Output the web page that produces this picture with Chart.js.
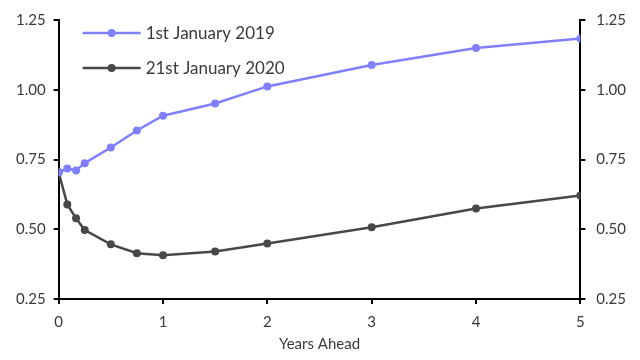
<!DOCTYPE html>
<html>
<head>
<meta charset="utf-8">
<script src="https://cdn.jsdelivr.net/npm/chart.js@4"></script>
<style>
  html, body { margin: 0; padding: 0; background: #fff; }
  #wrap { width: 640px; height: 360px; }
</style>
</head>
<body>
<div id="wrap"><canvas id="curveChart"></canvas></div>
<script>
const yearsAhead = [0, 0.083, 0.167, 0.25, 0.5, 0.75, 1, 1.5, 2, 3, 4, 5];
const jan2019 = [0.704, 0.718, 0.711, 0.737, 0.793, 0.854, 0.907, 0.951, 1.012, 1.089, 1.150, 1.184];
const jan2020 = [0.704, 0.589, 0.539, 0.497, 0.446, 0.414, 0.407, 0.420, 0.449, 0.507, 0.574, 0.621];
const yTicks = [0.25, 0.5, 0.75, 1.0, 1.25];
const xTicks = [0, 1, 2, 3, 4, 5];

const FONT = "Lato, 'Open Sans', sans-serif";
const TEXT = "#3a3a3a";

// legend drawn inside the plot, line + dot like the original
const insideLegend = {
  id: "insideLegend",
  afterDraw(chart) {
    const { ctx, chartArea } = chart;
    const x0 = chartArea.left + 24;
    let y = chartArea.top + 13;
    ctx.save();
    ctx.font = "17px " + FONT;
    ctx.textBaseline = "middle";
    chart.data.datasets.forEach(ds => {
      ctx.strokeStyle = ds.borderColor;
      ctx.lineWidth = 2.5;
      ctx.beginPath();
      ctx.moveTo(x0, y);
      ctx.lineTo(x0 + 58, y);
      ctx.stroke();
      ctx.fillStyle = ds.borderColor;
      ctx.beginPath();
      ctx.arc(x0 + 29, y, 4, 0, Math.PI * 2);
      ctx.fill();
      ctx.fillStyle = TEXT;
      ctx.fillText(ds.label, x0 + 63, y + 1);
      y += 35;
    });
    ctx.restore();
  },
};

const axisY = (position) => ({
  type: "linear",
  position: position,
  min: 0.25,
  max: 1.25,
  afterBuildTicks: (axis) => { axis.ticks = yTicks.map(v => ({ value: v })); },
  ticks: {
    color: TEXT,
    font: { family: FONT, size: 15 },
    padding: position === "left" ? 8 : 11,
    callback: (v) => Number(v).toFixed(2),
  },
  grid: { drawOnChartArea: false, drawTicks: true, tickLength: 5, color: "#000", lineWidth: 2 },
  border: { display: true, color: "#000", width: 2 },
});

new Chart(document.getElementById("curveChart"), {
  type: "line",
  data: {
    datasets: [
      {
        label: "1st January 2019",
        data: yearsAhead.map((x, i) => ({ x: x, y: jan2019[i] })),
        borderColor: "#8080ff",
        backgroundColor: "#8080ff",
        borderWidth: 2.5,
        pointRadius: 4,
        pointBorderWidth: 0,
        tension: 0,
      },
      {
        label: "21st January 2020",
        data: yearsAhead.map((x, i) => ({ x: x, y: jan2020[i] })),
        borderColor: "#484848",
        backgroundColor: "#484848",
        borderWidth: 2.5,
        pointRadius: 4,
        pointBorderWidth: 0,
        tension: 0,
      },
    ],
  },
  options: {
    responsive: true,
    maintainAspectRatio: false,
    animation: false,
    layout: { padding: { top: 11, right: 3, left: 8, bottom: 7 } },
    plugins: { legend: { display: false }, tooltip: { enabled: false } },
    scales: {
      x: {
        type: "linear",
        min: 0,
        max: 5,
        afterBuildTicks: (axis) => { axis.ticks = xTicks.map(v => ({ value: v })); },
        ticks: { color: TEXT, font: { family: FONT, size: 15 }, padding: 9 },
        title: { display: true, text: "Years Ahead", color: TEXT, font: { family: FONT, size: 15 }, padding: { top: -5, bottom: 0 } },
        grid: { drawOnChartArea: false, drawTicks: true, tickLength: 5, color: "#000", lineWidth: 2 },
        border: { display: true, color: "#000", width: 2 },
      },
      y: axisY("left"),
      y2: axisY("right"),
    },
  },
  plugins: [insideLegend],
});
</script>
</body>
</html>
